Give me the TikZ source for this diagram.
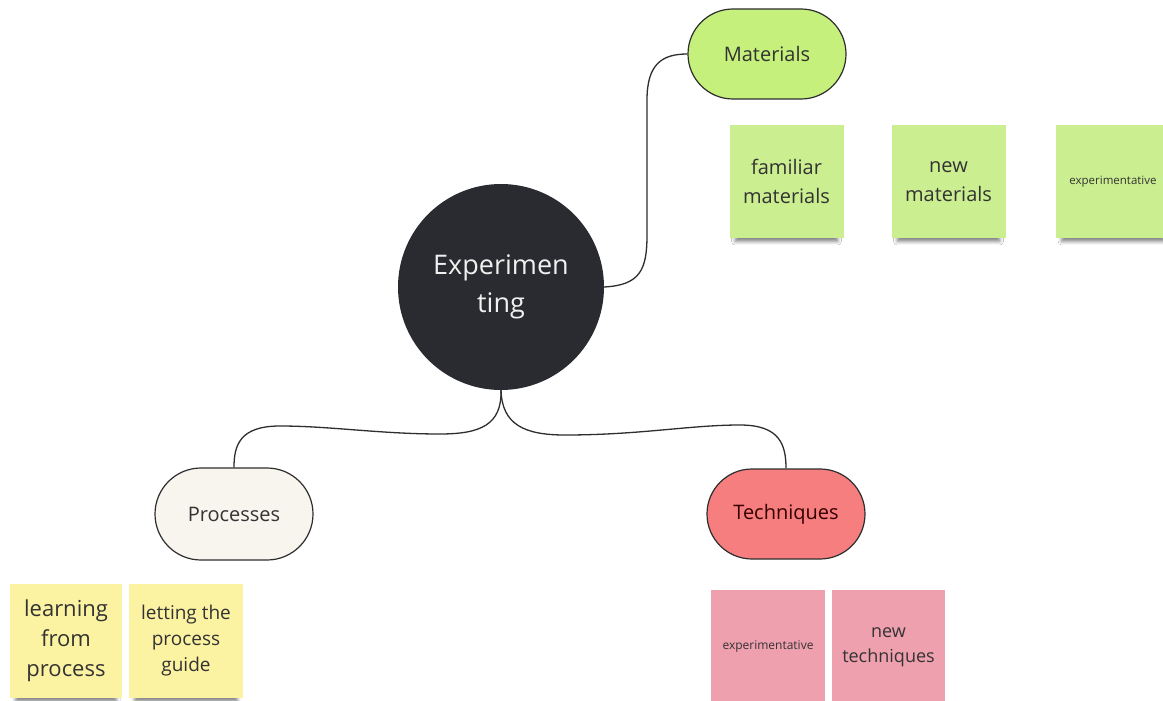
\documentclass[tikz,border=0pt]{standalone}
\usepackage{fontspec}
\setmainfont{Open Sans}
\usetikzlibrary{shapes.misc,shadows.blur}
\definecolor{centerc}{HTML}{2A2B30}
\definecolor{matc}{HTML}{C5F07C}
\definecolor{greennote}{HTML}{CBEE90}
\definecolor{procc}{HTML}{F8F4EE}
\definecolor{techc}{HTML}{F77E7E}
\definecolor{yellownote}{HTML}{FBF2A2}
\definecolor{pinknote}{HTML}{EFA0AE}
\definecolor{ink}{HTML}{333333}
\definecolor{edge}{HTML}{2E2E2E}
\tikzset{
  pill/.style={rounded rectangle, draw=edge, line width=1.2pt, minimum width=158pt, minimum height=90pt, inner sep=0pt, text=ink, font=\fontsize{20}{24}\selectfont},
  note/.style={rectangle, minimum width=114pt, minimum height=113pt, inner sep=2pt, align=center, text=ink,
    blur shadow={shadow xshift=0pt, shadow yshift=-10pt, shadow scale=0.9, shadow opacity=50, shadow blur radius=4pt}},
  conn/.style={draw=edge, line width=1.3pt}
}
\begin{document}
\begin{tikzpicture}[x=1pt,y=-1pt]
\useasboundingbox (0,0) rectangle (1163,701);
\clip (0,0) rectangle (1163,701);
\fill[white] (0,0) rectangle (1163,701);

% central node
\node[circle, fill=centerc, minimum size=206pt, inner sep=0pt, align=center, text=white!94!black,
  font=\fontsize{27}{38}\selectfont] (c) at (501,287) {Experimen\\ting};

% branch nodes
\node[pill, fill=matc] (m) at (767,54) {Materials};
\node[pill, fill=procc, minimum height=92pt] (p) at (234,514) {Processes};
\node[pill, fill=techc, text=black!80!red] (t) at (786,514) {Techniques};

% connectors
\draw[conn] (c.east) .. controls (640,285) and (647,270) .. (647,235)
  -- (647,100) .. controls (647,64) and (662,54) .. (m.west);
\draw[conn] (c.south) .. controls (502,425) and (480,434) .. (440,434)
  .. controls (380,434) and (330,426) .. (280,426)
  .. controls (240,426) and (234,445) .. (p.north);
\draw[conn] (c.south) .. controls (502,425) and (525,435) .. (565,435)
  .. controls (640,435) and (690,425) .. (740,425)
  .. controls (780,425) and (786,445) .. (t.north);

% green notes
\node[note, fill=greennote, font=\fontsize{20}{29}\selectfont] (n1) at (786.5,181.5) {familiar\\materials};
\node[note, fill=greennote, font=\fontsize{20}{29}\selectfont] (n2) at (948.5,181.5) {new\\materials};
\node[note, fill=greennote, font=\fontsize{11.5}{14}\selectfont] (n3) at (1113,181.5) {experimentative};

% yellow notes
\node[note, fill=yellownote, minimum width=112pt, minimum height=114pt, font=\fontsize{22}{30}\selectfont] (y1) at (66,641) {learning\\from\\process};
\node[note, fill=yellownote, minimum height=114pt, font=\fontsize{19}{26}\selectfont] (y2) at (186,641) {letting the\\process\\guide};

% pink notes
\node[note, fill=pinknote, minimum height=114pt, font=\fontsize{12}{14}\selectfont] (k1) at (768,647) {experimentative};
\node[note, fill=pinknote, minimum width=113pt, minimum height=114pt, font=\fontsize{18}{25}\selectfont] (k2) at (888.5,647) {new\\techniques};
\end{tikzpicture}
\end{document}
